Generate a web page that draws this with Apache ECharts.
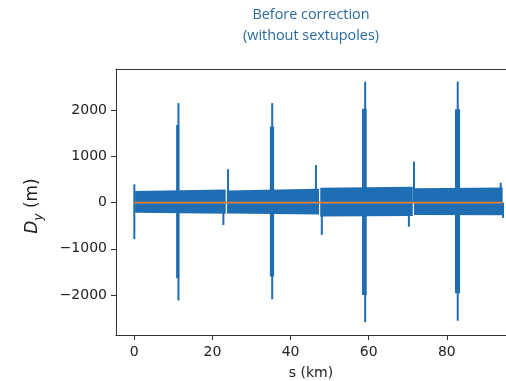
<!DOCTYPE html>
<html>
<head>
<meta charset="utf-8">
<script src="https://cdn.jsdelivr.net/npm/echarts@6/dist/echarts.min.js"></script>
<style>
  html, body { margin: 0; padding: 0; background: #fff; }
  #chart { width: 506px; height: 381px; }
</style>
</head>
<body>
<div id="chart"></div>
<script>
// Vertical dispersion D_y along the ring, s in km, D_y in m.

// Oscillation envelope of the dense D_y trace, one entry per arc segment
const bandStart    = [0.2, 23.7, 47.6, 71.6];
const bandEnd      = [23.4, 47.3, 71.3, 94.3];
const bandTopStart = [254, 265, 325, 312];
const bandTopEnd   = [285, 300, 345, 332];
const bandBotStart = [-217, -235, -300, -268];
const bandBotEnd   = [-240, -255, -290, -272];

// Narrow excursions (single peaks)
const peakS  = [0.0, 11.3, 22.8, 24.0, 35.3, 46.5, 48.0, 59.1, 70.3, 71.6, 82.8, 93.8, 94.4];
const peakLo = [-790, -2120, -484, 0, -2095, 0, -700, -2590, -520, 0, -2560, 0, -330];
const peakHi = [400, 2160, 0, 725, 2160, 818, 0, 2625, 0, 890, 2625, 434, 0];

// Wider high-dispersion regions around the interaction/straight sections
const blockS0 = [10.7, 34.7, 58.3, 82.1];
const blockS1 = [11.5, 35.8, 59.5, 83.4];
const blockLo = [-1640, -1600, -2000, -1965];
const blockHi = [1685, 1650, 2040, 2026];

// Reference trace
const refS  = [0, 94.3];
const refDy = [0, 0];

// Axis ticks
const xTicks = [0, 20, 40, 60, 80];
const yTicks = [-2000, -1000, 0, 1000, 2000];

const BLUE = '#1f6db2';
const ORANGE = '#e5803a';
const FONT = 'DejaVu Sans';
const SPINE = '#333';

const bandData = bandStart.map((s, i) => [s, bandEnd[i], bandTopStart[i], bandTopEnd[i], bandBotStart[i], bandBotEnd[i]]);
const peakData = peakS.map((s, i) => [s, peakLo[i], peakHi[i]]);
const blockData = blockS0.map((s, i) => [s, blockS1[i], blockLo[i], blockHi[i]]);
const refData = refS.map((s, i) => [s, refDy[i]]);

const fmt = v => (v < 0 ? '\u2212' + Math.abs(v) : String(v));

const chart = echarts.init(document.getElementById('chart'), null, { renderer: 'canvas' });
chart.setOption({
  animation: false,
  backgroundColor: '#fff',
  grid: { left: 116, top: 69, right: 0, height: 266, show: false, outerBoundsMode: 'none', containLabel: false },
  graphic: [
    { type: 'text', x: 311, y: 14.5, style: { text: 'Before correction', textAlign: 'center', textVerticalAlign: 'middle', fill: '#2a6a9e', font: '14.4px "Open Sans"' } },
    { type: 'text', x: 311, y: 35.5, style: { text: '(without sextupoles)', textAlign: 'center', textVerticalAlign: 'middle', fill: '#2a6a9e', font: '14.4px "Open Sans"' } }
  ],
  xAxis: [
    {
      type: 'value', min: -4.69, max: 95.16, position: 'bottom',
      name: 's (km)', nameLocation: 'middle', nameGap: 31,
      nameTextStyle: { fontFamily: FONT, fontSize: 14, color: '#222' },
      axisLine: { show: true, onZero: false, lineStyle: { color: SPINE, width: 1 } },
      splitLine: { show: false },
      axisTick: { show: true, inside: false, length: 5, lineStyle: { color: SPINE }, customValues: xTicks },
      axisLabel: { fontFamily: FONT, fontSize: 14, color: '#222', margin: 10, customValues: xTicks, formatter: fmt }
    },
    {
      // top spine only
      type: 'value', min: -4.69, max: 95.16, position: 'top',
      axisLine: { show: true, onZero: false, lineStyle: { color: SPINE, width: 1 } },
      axisTick: { show: false }, axisLabel: { show: false }, splitLine: { show: false }
    }
  ],
  yAxis: {
    type: 'value', min: -2870, max: 2900,
    name: '{d|D}{s|y}{n| (m)}', nameLocation: 'middle', nameGap: 70, nameRotate: 90,
    nameTextStyle: {
      padding: [0, 8, 0, 0],
      rich: {
        d: { fontFamily: FONT, fontSize: 17, fontStyle: 'italic', color: '#222', lineHeight: 26, verticalAlign: 'middle' },
        s: { fontFamily: FONT, fontSize: 12, fontStyle: 'italic', color: '#222', lineHeight: 26, verticalAlign: 'bottom', padding: [0, 0, 1, 0] },
        n: { fontFamily: FONT, fontSize: 17, color: '#222', lineHeight: 26, verticalAlign: 'middle' }
      }
    },
    axisLine: { show: true, onZero: false, lineStyle: { color: SPINE, width: 1 } },
    splitLine: { show: false },
    axisTick: { show: true, inside: false, length: 5, lineStyle: { color: SPINE }, customValues: yTicks },
    axisLabel: { fontFamily: FONT, fontSize: 14, color: '#222', margin: 9, customValues: yTicks, formatter: fmt }
  },
  series: [
    {
      type: 'custom', name: 'band', data: bandData, z: 2,
      encode: { x: [0, 1], y: [2, 3, 4, 5] },
      renderItem: (params, api) => {
        const pts = [
          api.coord([api.value(0), api.value(2)]),
          api.coord([api.value(1), api.value(3)]),
          api.coord([api.value(1), api.value(5)]),
          api.coord([api.value(0), api.value(4)])
        ];
        return { type: 'polygon', shape: { points: pts }, style: { fill: BLUE } };
      }
    },
    {
      type: 'custom', name: 'blocks', data: blockData, z: 3,
      encode: { x: [0, 1], y: [2, 3] },
      renderItem: (params, api) => {
        const a = api.coord([api.value(0), api.value(3)]);
        const b = api.coord([api.value(1), api.value(2)]);
        return { type: 'rect', shape: { x: a[0], y: a[1], width: b[0] - a[0], height: b[1] - a[1] }, style: { fill: BLUE } };
      }
    },
    {
      type: 'custom', name: 'peaks', data: peakData, z: 3,
      encode: { x: 0, y: [1, 2] },
      renderItem: (params, api) => {
        const a = api.coord([api.value(0), api.value(2)]);
        const b = api.coord([api.value(0), api.value(1)]);
        return { type: 'line', shape: { x1: a[0], y1: a[1], x2: b[0], y2: b[1] }, style: { stroke: BLUE, lineWidth: 2 } };
      }
    },
    {
      type: 'line', name: 'ref', data: refData, z: 5,
      showSymbol: false, symbol: 'none',
      lineStyle: { color: ORANGE, width: 1.8 }
    }
  ]
});
</script>
</body>
</html>
